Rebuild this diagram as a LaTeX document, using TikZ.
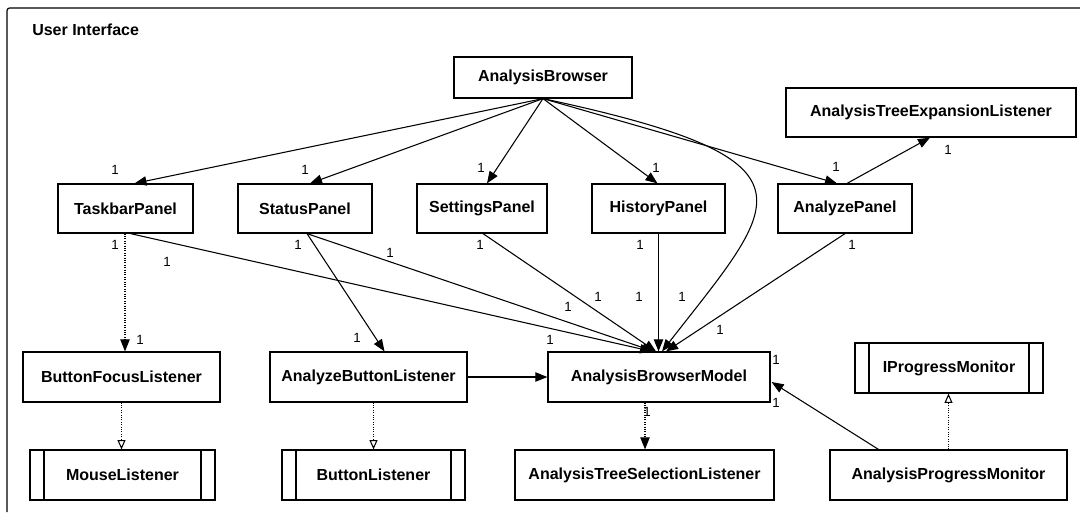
\documentclass[tikz,border=0pt]{standalone}
\usepackage{fontspec}
\setmainfont{Liberation Sans}
\usetikzlibrary{arrows.meta,calc}
\begin{document}
\begin{tikzpicture}[x=0.75pt,y=-0.75pt,
  cls/.style={draw, line width=0.9pt, inner sep=0pt, anchor=center,
    font=\bfseries\fontsize{12}{14}\selectfont},
  iface/.style={cls, path picture={
    \draw[line width=0.9pt] ([xshift=10.5pt]path picture bounding box.north west) -- ([xshift=10.5pt]path picture bounding box.south west);
    \draw[line width=0.9pt] ([xshift=-10.5pt]path picture bounding box.north east) -- ([xshift=-10.5pt]path picture bounding box.south east);}},
  assoc/.style={draw, line width=0.8pt, -{Triangle[length=9pt,width=7pt]}},
  dep/.style={draw, densely dotted, line width=0.8pt, -{Triangle[length=9pt,width=7pt]}},
  real/.style={draw, densely dotted, line width=0.8pt, -{Triangle[open,length=7pt,width=6pt]}},
  mult/.style={font=\fontsize{10}{12}\selectfont, inner sep=0pt}
]
\useasboundingbox (0,0) rectangle (1080,512);

% package frame (continues past the page on the right and at the bottom)
\draw[line width=0.9pt, rounded corners=2pt] (7,512) -- (7,8) -- (1080,8);
\node[anchor=west, inner sep=0pt, font=\bfseries\fontsize{12}{14}\selectfont] (pkg) at (32,30) {User Interface};

% classes
\node[cls, minimum width=133.5pt, minimum height=30.75pt] (AB)   at (543,77.5)  {AnalysisBrowser};
\node[cls, minimum width=217.5pt, minimum height=36.75pt] (ATEL) at (931,112.5) {AnalysisTreeExpansionListener};

\node[cls, minimum width=101.25pt, minimum height=36.75pt] (TP)  at (125.5,208.5) {TaskbarPanel};
\node[cls, minimum width=100.5pt,  minimum height=36.75pt] (SP)  at (305,208.5)   {StatusPanel};
\node[cls, minimum width=97.5pt,   minimum height=36.75pt] (SeP) at (482,208.5)   {SettingsPanel};
\node[cls, minimum width=99.75pt,  minimum height=36.75pt] (HP)  at (658.5,208.5) {HistoryPanel};
\node[cls, minimum width=100.5pt,  minimum height=36.75pt] (AP)  at (845,208.5)   {AnalyzePanel};

\node[cls, minimum width=147.75pt, minimum height=37.5pt] (BFL) at (121.5,377) {ButtonFocusListener};
\node[cls, minimum width=147.75pt, minimum height=37.5pt] (ABL) at (368.5,377) {AnalyzeButtonListener};
\node[cls, minimum width=166.5pt,  minimum height=37.5pt] (ABM) at (659,377)   {AnalysisBrowserModel};
\node[iface, minimum width=141pt,  minimum height=37.5pt] (IPM) at (949,368)   {IProgressMonitor};

\node[iface, minimum width=138.75pt, minimum height=37.5pt] (ML)   at (122.5,475) {MouseListener};
\node[iface, minimum width=137.25pt, minimum height=37.5pt] (BL)   at (373.5,475) {ButtonListener};
\node[cls,   minimum width=194.25pt, minimum height=37.5pt] (ATSL) at (644.5,475) {AnalysisTreeSelectionListener};
\node[cls,   minimum width=177.75pt, minimum height=37.5pt] (APM)  at (948.5,475) {AnalysisProgressMonitor};

% connector end points off the anchors
\coordinate (tpb) at ($(TP.south)+(-0.5,0)$);
\coordinate (abmb) at ($(ABM.south)+(-14,0)$);

% browser owns its panels and the model
\draw[assoc] (AB.south) -- ($(TP.north)+(9,0)$);
\draw[assoc] (AB.south) -- ($(SP.north)+(5,0)$);
\draw[assoc] (AB.south) -- ($(SeP.north)+(5,0)$);
\draw[assoc] (AB.south) -- ($(HP.north)+(-1,0)$);
\draw[assoc] (AB.south) -- ($(AP.north)+(-8,0)$);
\draw[assoc] (AB.south) .. controls (830,160) and (780,200) .. ($(ABM.north)+(3,0)$);
\draw[assoc] ($(AP.north)+(2,0)$) -- ($(ATEL.south)+(-1,0)$);

% panels share the model
\draw[assoc] ($(TP.south)+(5,0)$) -- ($(ABM.north)+(-7,0)$);
\draw[assoc] ($(SP.south)+(2,0)$) -- ($(ABM.north)+(-5,0)$);
\draw[assoc] ($(SeP.south)+(1,0)$) -- ($(ABM.north)+(-3,0)$);
\draw[assoc] (HP.south) -- (HP.south |- ABM.north);
\draw[assoc] (AP.south) -- ($(ABM.north)+(7,0)$);

% listeners
\draw[dep] (tpb) -- (tpb |- BFL.north);
\draw[assoc] ($(SP.south)+(2,0)$) -- ($(ABL.north)+(16,0)$);
\draw[assoc] (ABL.east) -- (ABM.west);
\draw[dep] (abmb) -- (abmb |- ATSL.north);
\draw[assoc] ($(APM.north)+(-70,0)$) -- ($(ABM.east)+(1,5)$);

% realizations
\draw[real] (BFL.south) -- (BFL.south |- ML.north);
\draw[real] (BL.north |- ABL.south) -- (BL.north);
\draw[real] (APM.north) -- (APM.north |- IPM.south);

% multiplicities
\node[mult] (m1)  at (115,170) {1};
\node[mult] (m2)  at (305,170) {1};
\node[mult] (m3)  at (481,168) {1};
\node[mult] (m4)  at (656,168) {1};
\node[mult] (m5)  at (836,167) {1};
\node[mult] (m6)  at (948,150) {1};
\node[mult] (m7)  at (115,245) {1};
\node[mult] (m8)  at (167,262) {1};
\node[mult] (m9)  at (298,245) {1};
\node[mult] (m10) at (390,253) {1};
\node[mult] (m11) at (480,245) {1};
\node[mult] (m12) at (640,245) {1};
\node[mult] (m13) at (852,245) {1};
\node[mult] (m14) at (140,340) {1};
\node[mult] (m15) at (357,338) {1};
\node[mult] (m16) at (550,340) {1};
\node[mult] (m17) at (568,307) {1};
\node[mult] (m18) at (598,297) {1};
\node[mult] (m19) at (639,297) {1};
\node[mult] (m20) at (682,297) {1};
\node[mult] (m21) at (720,330) {1};
\node[mult] (m22) at (776,360) {1};
\node[mult] (m23) at (776,403) {1};
\node[mult] (m24) at (647,412) {1};
\end{tikzpicture}
\end{document}
